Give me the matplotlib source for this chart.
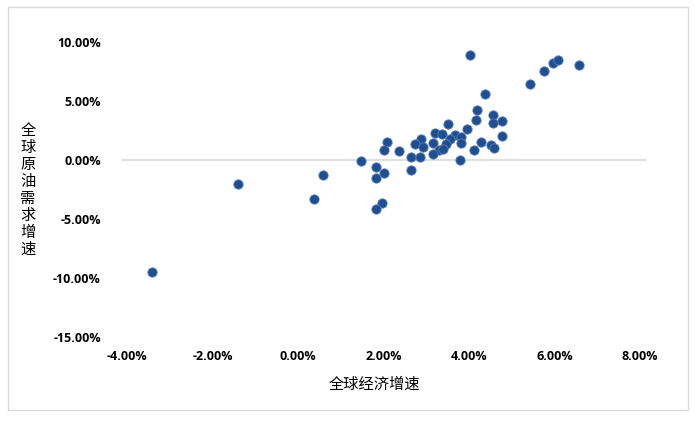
import matplotlib.pyplot as plt
from matplotlib.patches import Rectangle
from matplotlib.ticker import FuncFormatter

plt.rcParams['font.family'] = ['Noto Sans CJK SC', 'DejaVu Sans']

# global economic growth (%) vs global crude demand growth (%)
gdp_growth = [4.01, 5.42, 5.75, 5.96, 6.09, 6.57, 4.37, 4.19, 4.15, 4.56,
              4.76, 4.57, 4.78, 3.50, 3.94, 3.20, 3.36, 3.67, 3.81, 3.56,
              2.87, 3.15, 2.08, 2.73, 3.81, 3.45, 4.28, 2.92, 2.01, 2.37,
              3.30, 3.40, 4.11, 4.52, 4.59, 3.16, 2.64, 2.84, 1.46, 3.79,
              1.82, 2.01, 1.81, 2.65, 1.95, 1.81, -1.40, -3.43, 0.57, 0.38]
oil_growth = [8.90, 6.41, 7.50, 8.25, 8.45, 8.05, 5.56, 4.24, 3.42, 3.81,
              3.30, 3.11, 2.03, 3.05, 2.60, 2.26, 2.17, 2.12, 1.92, 1.75,
              1.75, 1.47, 1.50, 1.33, 1.47, 1.33, 1.53, 1.07, 0.85, 0.76,
              0.85, 0.93, 0.85, 1.27, 0.99, 0.51, 0.28, 0.28, -0.08, 0.00,
              -0.62, -1.10, -1.50, -0.87, -3.64, -4.12, -2.06, -9.49, -1.30, -3.28]

xticks = [-4, -2, 0, 2, 4, 6, 8]
yticks = [-15, -10, -5, 0, 5, 10]

fig = plt.figure(figsize=(6.95, 4.22), dpi=100)
fig.patches.append(Rectangle((0.012, 0.028), 0.978, 0.955, transform=fig.transFigure,
                             fill=False, edgecolor='#d9d9d9', lw=1))
ax = fig.add_axes([0.183, 0.2014, 0.738, 0.6991])

# zero line runs a bit past the plot area, like excel
ax.axhline(0, xmin=-0.01, xmax=1.012, color='#d9d9d9', lw=1.2, zorder=1, clip_on=False)
ax.scatter(gdp_growth, oil_growth, s=45, color='#1f4e91', edgecolors='#5b7fb5',
           linewidths=0.6, zorder=3)

ax.set_xlim(-4, 8)
ax.set_ylim(-15, 10)
ax.set_xticks(xticks)
ax.set_yticks(yticks)
pct = FuncFormatter(lambda v, p: '%.2f%%' % v)
ax.xaxis.set_major_formatter(pct)
ax.yaxis.set_major_formatter(pct)
ax.tick_params(length=0, labelsize=9)
ax.tick_params(axis='y', pad=19)
ax.tick_params(axis='x', pad=9)
for lab in ax.get_xticklabels() + ax.get_yticklabels():
    lab.set_fontweight('bold')
    lab.set_family('Open Sans')
for s in ax.spines.values():
    s.set_visible(False)

fig.text(0.538, 0.09, '全球经济增速', ha='center', va='center', fontsize=11)
fig.text(0.04, 0.55, '\n'.join('全球原油需求增速'), ha='center', va='center',
         fontsize=11, linespacing=1.0)

plt.savefig('out.png', dpi=100)
